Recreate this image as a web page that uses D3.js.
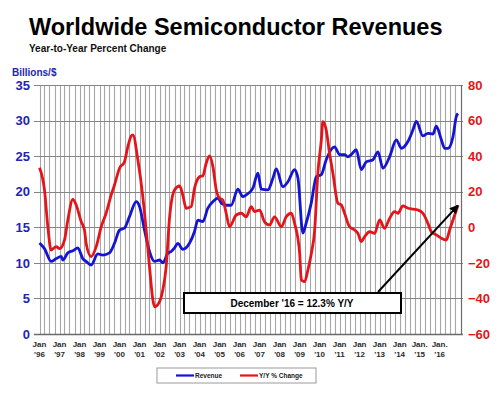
<!DOCTYPE html>
<html>
<head>
<meta charset="utf-8">
<script src="https://cdn.jsdelivr.net/npm/d3@7"></script>
<style>
  body { margin: 0; background: #fff; }
  svg { display: block; font-family: "Liberation Sans", Arial, sans-serif; font-weight: bold; }
</style>
</head>
<body>
<script>
// monthly revenue, billions of dollars
const revenue = [
  ["1996-01", 12.8], ["1996-04", 12.0], ["1996-08", 10.2], ["1996-11", 10.6],
  ["1997-02", 10.9], ["1997-03", 10.4], ["1997-06", 11.4], ["1997-09", 11.7],
  ["1997-12", 12.1], ["1998-03", 10.6], ["1998-05", 10.2], ["1998-08", 9.7],
  ["1998-12", 11.25], ["1999-03", 11.1], ["1999-07", 11.4], ["1999-10", 12.75],
  ["2000-01", 14.6], ["2000-04", 14.9], ["2000-07", 16.5], ["2000-11", 18.6],
  ["2001-01", 17.9], ["2001-04", 14.6], ["2001-07", 11.6], ["2001-10", 10.2],
  ["2002-01", 10.4], ["2002-03", 10.0], ["2002-06", 11.35], ["2002-08", 11.6],
  ["2002-10", 12.1], ["2002-12", 12.75], ["2003-03", 11.9], ["2003-07", 12.75],
  ["2003-10", 14.4], ["2003-12", 16.0], ["2004-03", 15.8], ["2004-06", 17.7],
  ["2004-09", 18.6], ["2004-12", 19.1], ["2005-02", 18.4], ["2005-05", 18.1],
  ["2005-08", 18.1], ["2005-12", 20.35], ["2006-03", 19.3], ["2006-05", 19.55],
  ["2006-09", 20.5], ["2006-12", 22.6], ["2007-02", 20.35], ["2007-06", 20.25],
  ["2007-09", 21.9], ["2007-11", 23.2], ["2008-03", 20.7], ["2008-06", 21.4],
  ["2008-10", 23.1], ["2008-12", 21.9], ["2009-03", 14.2], ["2009-05", 15.6],
  ["2009-08", 18.4], ["2009-11", 22.1], ["2010-02", 22.4], ["2010-05", 24.5],
  ["2010-10", 26.3], ["2011-01", 25.2], ["2011-04", 25.2], ["2011-06", 24.9],
  ["2011-08", 25.2], ["2011-11", 25.9], ["2012-02", 23.1], ["2012-05", 24.2],
  ["2012-09", 24.5], ["2012-12", 25.6], ["2013-03", 23.3], ["2013-07", 24.9],
  ["2013-11", 27.3], ["2014-02", 26.1], ["2014-06", 27.05], ["2014-09", 28.7],
  ["2014-11", 29.9], ["2015-03", 27.85], ["2015-06", 28.2], ["2015-09", 28.1],
  ["2015-11", 29.2], ["2016-02", 27.3], ["2016-04", 26.1], ["2016-06", 26.1],
  ["2016-09", 27.75], ["2016-11", 30.6], ["2016-12", 31.0]
];

// year-to-year percent change
const yoyChange = [
  ["1996-01", 33.5], ["1996-04", 21], ["1996-06", 0.3], ["1996-08", -12.8],
  ["1996-11", -10.9], ["1997-01", -12], ["1997-04", -7.2], ["1997-06", 4.1],
  ["1997-09", 15.7], ["1997-11", 12.5], ["1998-02", 3.1], ["1998-04", -1.5],
  ["1998-05", -9.0], ["1998-08", -16.5], ["1998-11", -10.9], ["1999-02", 0.3],
  ["1999-05", 7.9], ["1999-08", 18.1], ["1999-10", 23.8], ["2000-01", 33.2],
  ["2000-04", 36.9], ["2000-06", 45.3], ["2000-08", 51.3], ["2000-09", 52],
  ["2000-12", 37.8], ["2001-03", 17.2], ["2001-05", -1.5], ["2001-07", -22.2],
  ["2001-09", -40.9], ["2001-10", -44.7], ["2002-01", -41.8], ["2002-03", -35.3],
  ["2002-05", -22.2], ["2002-07", 5], ["2002-10", 21.0], ["2003-01", 23.2],
  ["2003-03", 18.1], ["2003-05", 10.7], ["2003-08", 11.6], ["2003-10", 21.9],
  ["2004-01", 28.4], ["2004-03", 29], ["2004-05", 36.0], ["2004-07", 40.1],
  ["2004-09", 34.1], ["2004-11", 21.0], ["2005-01", 16.3], ["2005-03", 15.3],
  ["2005-05", 7.9], ["2005-07", 0.3], ["2005-11", 6.9], ["2006-02", 7.9],
  ["2006-05", 5.9], ["2006-08", 11.6], ["2006-10", 8.8], ["2007-01", 9.7],
  ["2007-04", 3.1], ["2007-07", 1.3], ["2007-10", 5.9], ["2008-02", 0.3],
  ["2008-05", 5.9], ["2008-08", 7.9], ["2008-10", 2.2], ["2009-01", -14.6],
  ["2009-02", -29.6], ["2009-04", -30.6], ["2009-06", -24.0], ["2009-08", -15],
  ["2009-10", -2], ["2009-12", 31], ["2010-02", 49], ["2010-03", 59.4],
  ["2010-05", 54.7], ["2010-07", 41.6], ["2010-09", 30.3], ["2010-12", 13.5],
  ["2011-02", 12.5], ["2011-04", 7.9], ["2011-07", 0.3], ["2011-10", -1.5],
  ["2011-12", -3.4], ["2012-02", -8.1], ["2012-04", -5.3], ["2012-07", -2.5],
  ["2012-10", -3.4], ["2013-01", 4.1], ["2013-04", -0.6], ["2013-07", 5.0],
  ["2013-10", 8.8], ["2013-12", 7.9], ["2014-03", 12.0], ["2014-06", 10.7],
  ["2014-09", 10.2], ["2014-12", 9.7], ["2015-03", 7.9], ["2015-06", 2.2],
  ["2015-08", -2.5], ["2015-11", -4.3], ["2016-02", -6.2], ["2016-05", -7.2],
  ["2016-07", -1.5], ["2016-09", 4.1], ["2016-12", 12.3]
];

const leftTicks = [0, 5, 10, 15, 20, 25, 30, 35];
const rightTicks = [-60, -40, -20, 0, 20, 40, 60, 80];
const xTickDates = ["1996-01", "1997-01", "1998-01", "1999-01", "2000-01", "2001-01", "2002-01",
                    "2003-01", "2004-01", "2005-01", "2006-01", "2007-01", "2008-01", "2009-01",
                    "2010-01", "2011-01", "2012-01", "2013-01", "2014-01", "2015-01", "2016-01"];
const xMonthLabels = ["Jan", "Jan", "Jan", "Jan", "Jan", "Jan", "Jan", "Jan", "Jan", "Jan", "Jan",
                      "Jan", "Jan", "Jan", "Jan", "Jan", "Jan", "Jan", "Jan", "Jan.", "Jan."];
const xYearLabels = ["'96", "'97", "'98", "'99", "'00", "'01", "'02", "'03", "'04", "'05", "'06",
                     "'07", "'08", "'09", "'10", "'11", "'12", "'13", "'14", "'15", "'16"];

const width = 500, height = 395;
const plot = { left: 34, right: 461, top: 85, bottom: 334 };
const blue = "#1414d2", red = "#e4141a";

const parse = d3.timeParse("%Y-%m");

const svg = d3.select("body").append("svg")
    .attr("width", width)
    .attr("height", height);

// scales
const x = d3.scaleTime()
    .domain([parse("1996-01"), parse("2016-12")])
    .range([39.5, 458]);
const yLeft = d3.scaleLinear().domain([0, 35]).range([plot.bottom, plot.top]);
const yRight = d3.scaleLinear().domain([-60, 80]).range([plot.bottom, plot.top]);

// title block
svg.append("text")
    .attr("x", 29).attr("y", 35)
    .style("font-size", "23.5px")
    .attr("fill", "#000")
    .text("Worldwide Semiconductor Revenues");
svg.append("text")
    .attr("x", 29).attr("y", 52)
    .style("font-size", "10px")
    .attr("fill", "#111")
    .text("Year-to-Year Percent Change");
svg.append("text")
    .attr("x", 12).attr("y", 76)
    .style("font-size", "10px")
    .attr("fill", "#2424b4")
    .text("Billions/$");

// vertical grid, one line per quarter
const quarters = d3.timeMonth.every(3).range(parse("1996-01"), parse("2017-01"));
svg.append("g")
  .selectAll("line")
  .data(quarters)
  .join("line")
    .attr("x1", d => Math.round(x(d)) + 0.5).attr("x2", d => Math.round(x(d)) + 0.5)
    .attr("y1", plot.top).attr("y2", plot.bottom)
    .attr("stroke", "#a6a6a6")
    .attr("stroke-width", 1.1);

// horizontal grid
svg.append("g")
  .selectAll("line")
  .data(leftTicks)
  .join("line")
    .attr("x1", plot.left).attr("x2", plot.right + 2)
    .attr("y1", d => Math.round(yLeft(d)) + 0.5).attr("y2", d => Math.round(yLeft(d)) + 0.5)
    .attr("stroke", "#858585")
    .attr("stroke-width", 1);

// right axis line and bottom line
svg.append("line")
    .attr("x1", plot.right + 0.5).attr("x2", plot.right + 0.5)
    .attr("y1", plot.top).attr("y2", plot.bottom)
    .attr("stroke", "#6a6a6a").attr("stroke-width", 1.2);
svg.append("line")
    .attr("x1", plot.left).attr("x2", plot.right + 2)
    .attr("y1", plot.bottom + 0.5).attr("y2", plot.bottom + 0.5)
    .attr("stroke", "#6a6a6a").attr("stroke-width", 1.4);

// left axis labels
const leftAxis = svg.append("g")
    .attr("transform", `translate(30,0)`)
    .call(d3.axisLeft(yLeft).tickValues(leftTicks).tickSize(0).tickPadding(0));
leftAxis.select(".domain").remove();
leftAxis.selectAll("text")
    .style("font-family", "Liberation Sans, Arial, sans-serif")
    .style("font-weight", "bold")
    .style("font-size", "13px")
    .attr("fill", "#2424b4");

// right axis labels
const rightAxis = svg.append("g")
    .attr("transform", `translate(468,0)`)
    .call(d3.axisRight(yRight).tickValues(rightTicks).tickSize(0).tickPadding(0));
rightAxis.select(".domain").remove();
rightAxis.selectAll("text")
    .style("font-family", "Liberation Sans, Arial, sans-serif")
    .style("font-weight", "bold")
    .style("font-size", "13px")
    .attr("fill", "#e4141a");

// x labels on two lines
const xLab = svg.append("g")
  .selectAll("text")
  .data(xTickDates)
  .join("text")
    .attr("text-anchor", "middle")
    .style("font-size", "8px")
    .attr("fill", "#2a2a2a");
xLab.append("tspan")
    .attr("x", d => x(parse(d)))
    .attr("y", 347)
    .text((d, i) => xMonthLabels[i]);
xLab.append("tspan")
    .attr("x", d => x(parse(d)))
    .attr("y", 356.5)
    .text((d, i) => xYearLabels[i]);

// series
const revLine = d3.line()
    .x(d => x(parse(d[0])))
    .y(d => yLeft(d[1]))
    .curve(d3.curveMonotoneX);
const yoyLine = d3.line()
    .x(d => x(parse(d[0])))
    .y(d => yRight(d[1]))
    .curve(d3.curveMonotoneX);

svg.append("path")
    .datum(revenue)
    .attr("d", revLine)
    .attr("fill", "none")
    .attr("stroke", blue)
    .attr("stroke-width", 2.8)
    .attr("stroke-linejoin", "round");

svg.append("path")
    .datum(yoyChange)
    .attr("d", yoyLine)
    .attr("fill", "none")
    .attr("stroke", red)
    .attr("stroke-width", 2.8)
    .attr("stroke-linejoin", "round");

// annotation box with arrow to the last point
const last = yoyChange[yoyChange.length - 1];
svg.append("defs").append("marker")
    .attr("id", "arrow")
    .attr("viewBox", "0 0 10 10")
    .attr("refX", 9).attr("refY", 5)
    .attr("markerWidth", 4.5).attr("markerHeight", 4.5)
    .attr("orient", "auto")
  .append("path")
    .attr("d", "M0,0L10,5L0,10z")
    .attr("fill", "#000");

svg.append("line")
    .attr("x1", 378).attr("y1", 292)
    .attr("x2", x(parse(last[0]))).attr("y2", yRight(last[1]))
    .attr("stroke", "#000")
    .attr("stroke-width", 2)
    .attr("marker-end", "url(#arrow)");

svg.append("rect")
    .attr("x", 184).attr("y", 293)
    .attr("width", 217).attr("height", 20)
    .attr("fill", "#fff")
    .attr("stroke", "#000")
    .attr("stroke-width", 2);
svg.append("text")
    .attr("x", 292).attr("y", 306.5)
    .attr("text-anchor", "middle")
    .style("font-size", "10px")
    .attr("fill", "#000")
    .text(`December '16 = ${last[1]}% Y/Y`);

// legend
const legend = svg.append("g");
legend.append("rect")
    .attr("x", 157).attr("y", 368)
    .attr("width", 159).attr("height", 15)
    .attr("fill", "#fff")
    .attr("stroke", "#9a9a9a")
    .attr("stroke-width", 1);
const legendItems = [
  { label: "Revenue", color: blue, x: 176 },
  { label: "Y/Y % Change", color: red, x: 240 }
];
legendItems.forEach(({label, color, x: lx}) => {
  legend.append("line")
      .attr("x1", lx).attr("x2", lx + 18)
      .attr("y1", 375.5).attr("y2", 375.5)
      .attr("stroke", color)
      .attr("stroke-width", 2.2);
  legend.append("text")
      .attr("x", lx + 19).attr("y", 378)
      .style("font-size", "6.5px")
      .attr("fill", "#222")
      .text(label);
});
</script>
</body>
</html>
